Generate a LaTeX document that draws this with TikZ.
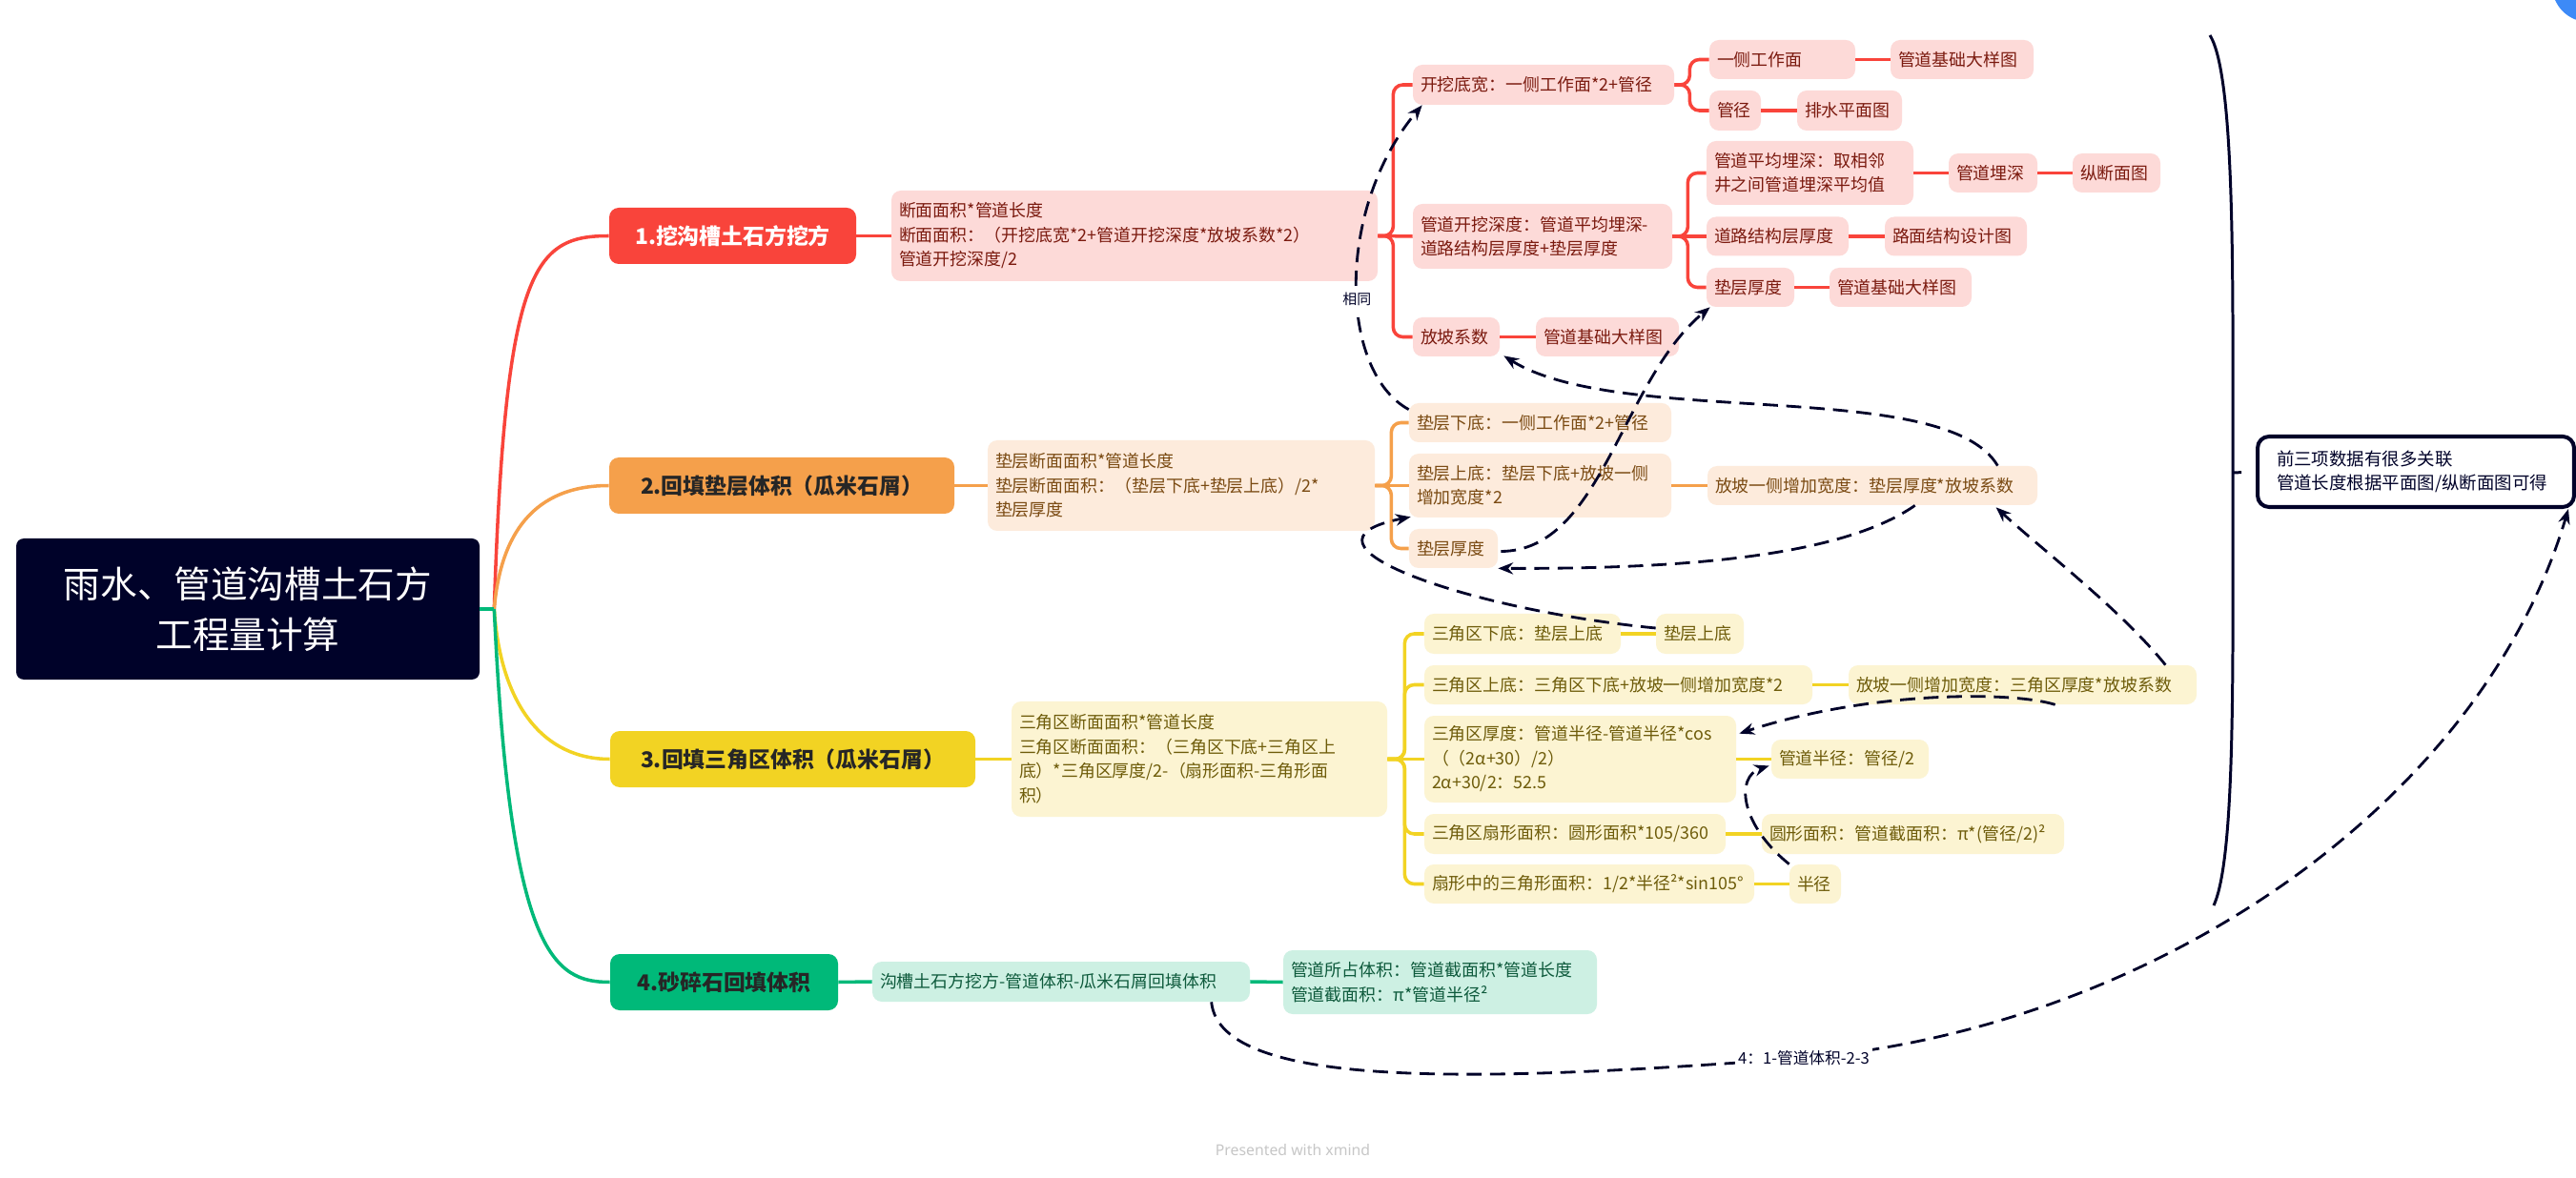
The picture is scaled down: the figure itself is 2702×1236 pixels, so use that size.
\documentclass[tikz,border=0pt]{standalone}
\usepackage{fontspec}
\setmainfont{Noto Sans CJK SC}
\newfontfamily\wmfont{Noto Sans}
\usepackage{tikz}
\usetikzlibrary{arrows.meta,calc}

\definecolor{navy}{HTML}{000229}
\definecolor{redc}{HTML}{F9443B}
\definecolor{redfill}{HTML}{FDDAD8}
\definecolor{redtext}{HTML}{7B1A0F}
\definecolor{orangec}{HTML}{F5A04B}
\definecolor{orangefill}{HTML}{FDEBDC}
\definecolor{orangetext}{HTML}{7A4A12}
\definecolor{yellowc}{HTML}{F2D323}
\definecolor{yellowfill}{HTML}{FCF4D2}
\definecolor{yellowtext}{HTML}{6E5C0A}
\definecolor{greenc}{HTML}{00B979}
\definecolor{greenfill}{HTML}{CDF0E3}
\definecolor{greentext}{HTML}{0E5A3C}
\definecolor{xblue}{HTML}{3D8AF7}

\begin{document}
\begin{tikzpicture}[x=0.02cm, y=-0.02cm,
	sz/.style 2 args={minimum width=#1*0.02cm, minimum height=#2*0.02cm},
	wh/.code 2 args={\pgfmathsetmacro\boxw{(#1-16)*0.02}\pgfmathsetmacro\boxh{#2*0.02}%
		\edef\boxset{\noexpand\pgfkeysalso{text width=\boxw cm,minimum height=\boxh cm}}\boxset},
	rootbox/.style={fill=navy, text=white, rounded corners=0.16cm, align=center, inner sep=0pt,
		font=\fontsize{22}{30}\selectfont},
	topicbox/.style={rounded corners=0.2cm, inner sep=0pt, font=\bfseries\fontsize{13}{16}\selectfont},
	subbox/.style={rounded corners=0.2cm, align=left, inner xsep=0.16cm, inner ysep=0pt,
		font=\fontsize{10.2}{14.5}\selectfont},
	redsub/.style={subbox, fill=redfill, text=redtext},
	orangesub/.style={subbox, fill=orangefill, text=orangetext},
	yellowsub/.style={subbox, fill=yellowfill, text=yellowtext},
	greensub/.style={subbox, fill=greenfill, text=greentext},
	redline/.style={draw=redc, line width=2pt, rounded corners=0.2cm},
	orangeline/.style={draw=orangec, line width=2pt, rounded corners=0.2cm},
	yellowline/.style={draw=yellowc, line width=2pt, rounded corners=0.2cm},
	greenline/.style={draw=greenc, line width=2pt, rounded corners=0.2cm},
	rel/.style={draw=navy, line width=1.6pt, dash pattern=on 9pt off 5pt, -{Stealth[length=9pt,width=7pt]}},
	rellabel/.style={fill=white, text=navy, inner sep=2pt, font=\fontsize{8.5}{10}\selectfont},
	sumline/.style={draw=navy, line width=1.7pt},
	sumbox/.style={draw=navy, line width=2.3pt, fill=white, rounded corners=0.24cm, align=left, text=navy,
		inner xsep=0.4cm, text width=5.84cm, minimum height=1.48cm, font=\fontsize{10.5}{14}\selectfont}
	]
	\fill[white] (0,0) rectangle (2702,1236);
	\useasboundingbox (0,0) rectangle (2702,1236);
	
	\node[rootbox, sz={486}{148}] (root) at (260,639) {雨水、管道沟槽土石方\\工程量计算};
	
	\node[topicbox, sz={259}{59}, fill=redc, text=white] (b1) at (768.5,247.5) {1.挖沟槽土石方挖方};
	\node[topicbox, sz={362}{59}, fill=orangec, text=black!85] (b2) at (820,509.5) {2.回填垫层体积（瓜米石屑）};
	\node[topicbox, sz={383}{59}, fill=yellowc, text=black!85] (b3) at (831.5,796.5) {3.回填三角区体积（瓜米石屑）};
	\node[topicbox, sz={239}{59}, fill=greenc, text=black!85] (b4) at (759.5,1030.5) {4.砂碎石回填体积};
	
	\node[redsub, wh={510}{95}] (wfdm) at (1190,247.5)
	{断面面积*管道长度\\断面面积：（开挖底宽*2+管道开挖深度*放坡系数*2）\\*管道开挖深度/2};
	\node[redsub, wh={274}{42}] (kwdk) at (1619,89) {开挖底宽：一侧工作面*2+管径};
	\node[redsub, wh={272}{68}] (kwsd) at (1618,248) {管道开挖深度：管道平均埋深-\\道路结构层厚度+垫层厚度};
	\node[redsub, wh={91}{41}] (fpxs) at (1527.5,353.5) {放坡系数};
	\node[redsub, wh={150}{41}] (fpdy) at (1686,353.5) {管道基础大样图};
	\node[redsub, wh={153}{41}] (yczm) at (1869.5,62.5) {一侧工作面};
	\node[redsub, wh={150}{41}] (czdy) at (2058,62.5) {管道基础大样图};
	\node[redsub, wh={54}{42}] (gj) at (1820,116) {管径};
	\node[redsub, wh={110}{42}] (psmt) at (1940,116) {排水平面图};
	\node[redsub, wh={217}{67}] (pjms) at (1898.5,181.5) {管道平均埋深：取相邻\\井之间管道埋深平均值};
	\node[redsub, wh={93}{41}] (gdms) at (2090.5,181.5) {管道埋深};
	\node[redsub, wh={92}{41}] (zdmt) at (2220,181.5) {纵断面图};
	\node[redsub, wh={149}{41}] (dlhd) at (1864.5,248) {道路结构层厚度};
	\node[redsub, wh={149}{41}] (lmsj) at (2051.5,248) {路面结构设计图};
	\node[redsub, wh={92}{41}] (dchd) at (1836,301.5) {垫层厚度};
	\node[redsub, wh={149}{41}] (dcdy) at (1993.5,301.5) {管道基础大样图};
	
	\node[orangesub, wh={406}{95}] (dcdm) at (1239,509.5)
	{垫层断面面积*管道长度\\垫层断面面积：（垫层下底+垫层上底）/2*\\垫层厚度};
	\node[orangesub, wh={275}{41}] (dcxd) at (1615.5,443.5) {垫层下底：一侧工作面*2+管径};
	\node[orangesub, wh={275}{67}] (dcsd) at (1615.5,509.5) {垫层上底：垫层下底+放坡一侧\\增加宽度*2};
	\node[orangesub, wh={93}{41}] (dchdb) at (1524.5,575.5) {垫层厚度};
	\node[orangesub, wh={346}{41}] (dczj) at (1964,509.5) {放坡一侧增加宽度：垫层厚度*放坡系数};
	
	\node[yellowsub, wh={394}{121}] (sjdm) at (1258,796.5)
	{三角区断面面积*管道长度\\三角区断面面积：（三角区下底+三角区上\\底）*三角区厚度/2-（扇形面积-三角形面\\积）};
	\node[yellowsub, wh={206}{42}] (sjxd) at (1597,665) {三角区下底：垫层上底};
	\node[yellowsub, wh={92}{42}] (dcsdb) at (1783,665) {垫层上底};
	\node[yellowsub, wh={407}{41}] (sjsd) at (1697.5,718.5) {三角区上底：三角区下底+放坡一侧增加宽度*2};
	\node[yellowsub, wh={365}{41}] (sjzj) at (2121.5,718.5) {放坡一侧增加宽度：三角区厚度*放坡系数};
	\node[yellowsub, wh={327}{91}] (sjhd) at (1657.5,796.5)
	{三角区厚度：管道半径-管道半径*cos\\（（2α+30）/2）\\2α+30/2：52.5};
	\node[yellowsub, wh={165}{41}] (gdbj) at (1940.5,796.5) {管道半径：管径/2};
	\node[yellowsub, wh={316}{42}] (sjsx) at (1652,875) {三角区扇形面积：圆形面积*105/360};
	\node[yellowsub, wh={317}{42}] (yxmj) at (2006.5,875) {圆形面积：管道截面积：π*(管径/2)²};
	\node[yellowsub, wh={346}{41}] (sxsj) at (1667,927.5) {扇形中的三角形面积：1/2*半径²*sin105°};
	\node[yellowsub, wh={54}{41}] (bj) at (1904,927.5) {半径};
	
	\node[greensub, wh={396}{42}] (sswt) at (1113,1030) {沟槽土石方挖方-管道体积-瓜米石屑回填体积};
	\node[greensub, wh={329}{67}] (gdtj) at (1510.5,1030.5) {管道所占体积：管道截面积*管道长度\\管道截面积：π*管道半径²};
	
	\node[sumbox] (sumnote) at (2534,495) {前三项数据有很多关联\\管道长度根据平面图/纵断面图可得};
	
	\coordinate (hub) at ($(root.east)+(15,0)$);
	\draw[redline] (hub) .. controls (530,280) and (560,247.5) .. (b1.west);
	\draw[orangeline] (hub) .. controls (525,560) and (560,509.5) .. (b2.west);
	\draw[yellowline] (hub) .. controls (525,740) and (570,796.5) .. (b3.west);
	\draw[greenline] (hub) .. controls (535,1000) and (580,1030.5) .. (b4.west);
	\draw[greenline] (root.east) -- (hub);
	
	\draw[redline] (b1.east) -- (wfdm.west);
	\draw[redline] (wfdm.east) -- ++(16,0) |- (kwdk.west);
	\draw[redline] (wfdm.east) -- (kwsd.west);
	\draw[redline] (wfdm.east) -- ++(16,0) |- (fpxs.west);
	\draw[redline] (fpxs.east) -- (fpdy.west);
	\draw[redline] (kwdk.east) -- ++(16,0) |- (yczm.west);
	\draw[redline] (kwdk.east) -- ++(16,0) |- (gj.west);
	\draw[redline] (yczm.east) -- (czdy.west);
	\draw[redline] (gj.east) -- (psmt.west);
	\draw[redline] (kwsd.east) -- ++(16,0) |- (pjms.west);
	\draw[redline] (kwsd.east) -- (dlhd.west);
	\draw[redline] (kwsd.east) -- ++(16,0) |- (dchd.west);
	\draw[redline] (pjms.east) -- (gdms.west);
	\draw[redline] (gdms.east) -- (zdmt.west);
	\draw[redline] (dlhd.east) -- (lmsj.west);
	\draw[redline] (dchd.east) -- (dcdy.west);
	
	\draw[orangeline] (b2.east) -- (dcdm.west);
	\draw[orangeline] (dcdm.east) -- ++(17,0) |- (dcxd.west);
	\draw[orangeline] (dcdm.east) -- (dcsd.west);
	\draw[orangeline] (dcdm.east) -- ++(17,0) |- (dchdb.west);
	\draw[orangeline] (dcsd.east) -- (dczj.west);
	
	\draw[yellowline] (b3.east) -- (sjdm.west);
	\draw[yellowline] (sjdm.east) -- ++(18,0) |- (sjxd.west);
	\draw[yellowline] (sjdm.east) -- ++(18,0) |- (sjsd.west);
	\draw[yellowline] (sjdm.east) -- (sjhd.west);
	\draw[yellowline] (sjdm.east) -- ++(18,0) |- (sjsx.west);
	\draw[yellowline] (sjdm.east) -- ++(18,0) |- (sxsj.west);
	\draw[yellowline] (sjxd.east) -- (dcsdb.west);
	\draw[yellowline] (sjsd.east) -- (sjzj.west);
	\draw[yellowline] (sjhd.east) -- (gdbj.west);
	\draw[yellowline] (sjsx.east) -- (yxmj.west);
	\draw[yellowline] (sxsj.east) -- (bj.west);
	
	\draw[greenline] (b4.east) -- (sswt.west);
	\draw[greenline] (sswt.east) -- (gdtj.west);
	
	\draw[rel] ($(dcxd.north west)+(0,7)$) .. controls (1405,390) and (1400,220) .. ($(kwdk.south west)+(10,0)$)
	node[rellabel, pos=0.45] (same) {相同};
	\draw[rel] ($(dchdb.east)+(3,3)$) .. controls (1680,578) and (1700,400) .. ($(dchd.south west)+(4,0)$);
	\draw[rel] ($(dczj.north east)+(-42,0)$) .. controls (2040,395) and (1700,450) .. ($(fpxs.south east)+(4,-1)$);
	\draw[rel] ($(dczj.south west)+(218,0)$) .. controls (1930,585) and (1760,597) .. (dchdb.south east);
	\draw[rel] ($(dcsdb.west)+(0,-6)$) .. controls (1540,640) and (1340,570) .. ($(dcsd.south west)+(2,-1)$);
	\draw[rel] ($(sjzj.north east)+(-33,0)$) .. controls (2225,640) and (2140,575) .. ($(dczj.south west)+(303,2)$);
	\draw[rel] ($(sjzj.south west)+(217,0)$) .. controls (2110,725) and (1960,725) .. ($(sjhd.north east)+(3,19)$);
	\draw[rel] (bj.north west) .. controls (1825,865) and (1820,815) .. ($(gdbj.west)+(-2,7)$);
	\draw[rel] ($(sswt.south west)+(356,0)$) .. controls (1280,1145) and (1560,1135) .. (1892,1110)
	node[rellabel, font=\fontsize{9.5}{11}\selectfont] (four) {4：1-管道体积-2-3}
	.. controls (2250,1080) and (2600,850) .. ($(sumnote.south east)+(-8,0)$);
	
	\coordinate (sumtip) at (2342,496);
	\draw[sumline] (2318,37) .. controls (2345,80) and (2342,300) .. (sumtip)
	.. controls (2342,700) and (2345,900) .. (2322,950);
	\draw[sumline, shorten >=0.3cm] (sumtip) -- (sumnote.west);
	
	\node[font=\wmfont\fontsize{9}{11}\selectfont, text=black!22] (wm) at (1356,1207) {Presented with \textbf{xmind}};
	\fill[xblue] (2715,-15) circle (0.76cm);
\end{tikzpicture}
\end{document}
